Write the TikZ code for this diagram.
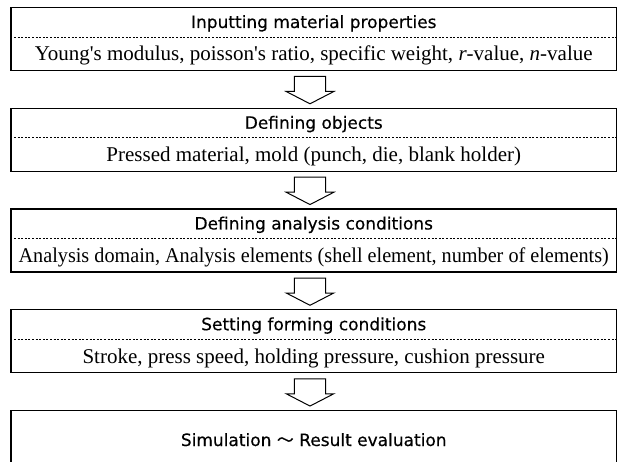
\documentclass[tikz,border=0pt]{standalone}
\usepackage{fontspec}
\setmainfont{Liberation Serif}[Ligatures=TeXOff]
\newfontfamily\titlefont{DejaVu Sans}[FakeBold=0.35]
\newfontfamily\cjkfont{Noto Sans CJK JP}[FakeBold=0.35]
\usetikzlibrary{calc}
\tikzset{
  frame/.style={draw=black, line width=1.1pt, minimum width=605.5pt, minimum height=63pt, inner sep=0pt, anchor=north},
  sepline/.style={draw=black, line width=0.8pt, dash pattern=on 2pt off 1.6pt},
  titletext/.style={font=\titlefont\fontsize{17}{20}\selectfont, inner sep=0pt, anchor=base},
  bodytext/.style={font=\fontsize{21}{24}\selectfont, inner sep=0pt, anchor=base},
  blockarrow/.style={draw=black, line width=1pt, fill=white, line join=miter}
}
\newcommand\hollowarrow[1]{%
  \draw[blockarrow] (#1) ++(-15.7,5.4) -- ++(31.4,0) -- ++(0,15) -- ++(8.1,0)
    -- ++(-23.8,12.3) -- ++(-23.8,-12.3) -- ++(8.1,0) -- cycle;}
\begin{document}
\begin{tikzpicture}[x=1pt,y=-1pt]
\clip (0,0) rectangle (618,462);
\fill[white] (0,0) rectangle (618,462);
% boxes
\node[frame] (b1) at (313.75,7) {};
\node[frame] (b2) at (313.75,107.75) {};
\node[frame] (b3) at (313.75,208.5) {};
\node[frame] (b4) at (313.75,309.25) {};
\node[frame, minimum height=80pt] (b5) at (313.75,410) {};
% dashed separators
\foreach \b in {b1,b2,b3,b4}{
  \draw[sepline] ([yshift=-30pt]\b.north west) -- ([yshift=-30pt]\b.north east);
}
% texts
\node[titletext] (h1) at (313.75,28) {Inputting material properties};
\node[bodytext]  (d1) at (313.75,61) {Young's modulus, poisson's ratio, specific weight, \textit{r}-value, \textit{n}-value};
\node[titletext] (h2) at (313.75,128.75) {Defining objects};
\node[bodytext]  (d2) at (313.75,161.75) {Pressed material, mold (punch, die, blank holder)};
\node[titletext] (h3) at (313.75,229.5) {Defining analysis conditions};
\node[bodytext]  (d3) at (313.75,262.5) {\scalebox{0.962}[1]{Analysis domain, Analysis elements (shell element, number of elements)}};
\node[titletext] (h4) at (313.75,330.25) {Setting forming conditions};
\node[bodytext]  (d4) at (313.75,363.25) {Stroke, press speed, holding pressure, cushion pressure};
\node[titletext] (h5) at (313.75,446) {Simulation {\cjkfont 〜} Result evaluation};
% hollow arrows between boxes
\foreach \b in {b1,b2,b3,b4}{
  \coordinate (a\b) at ($(\b.south)+(-3.75,0)$);
  \hollowarrow{a\b}
}
\end{tikzpicture}
\end{document}
